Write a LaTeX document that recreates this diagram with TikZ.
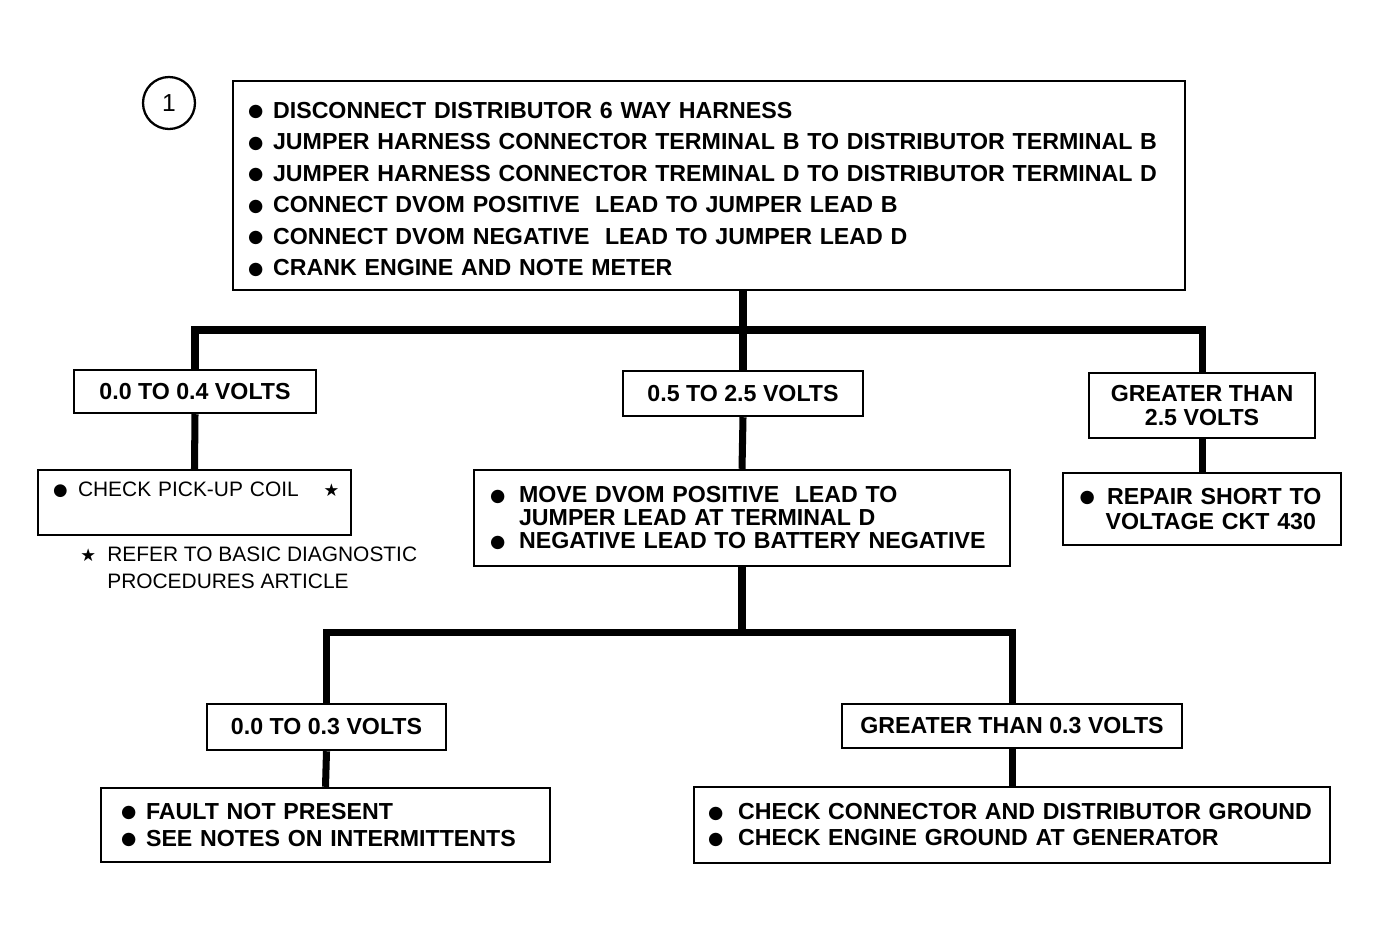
\documentclass[tikz,border=0pt]{standalone}
\usepackage{fontspec}
\setmainfont{Liberation Sans}
\newfontfamily\starfont{DejaVu Sans}
\usetikzlibrary{positioning}
\newcommand{\blt}[1][0.5cm]{\makebox[#1][l]{\raisebox{0.06em}{\starfont\fontsize{10}{10}\selectfont\char"25CF}}}
\newcommand{\str}{{\starfont\fontsize{10}{10}\selectfont\char"2605}}

\begin{document}
\begin{tikzpicture}[x=0.02cm,y=-0.02cm,
box/.style={draw,line width=1.4pt,fill=white,inner sep=0pt,font=\bfseries\fontsize{13.2}{16}\selectfont},
conn/.style={line width=4pt}]
\useasboundingbox (0,0) rectangle (1381,941);
\node[circle,draw,line width=1.3pt,minimum size=1.04cm,inner sep=0pt,font=\fontsize{14}{14}\selectfont] (one) at (169,103) {1};
\node[box,minimum width=19.04cm,minimum height=4.18cm,text width=18.44cm,inner xsep=0.3cm,align=left,
font=\bfseries\fontsize{13.2}{17.9}\selectfont] (top) at (709,185.5)
{\rule{0pt}{13.5pt}\blt DISCONNECT DISTRIBUTOR 6 WAY HARNESS\\
\blt JUMPER HARNESS CONNECTOR TERMINAL B TO DISTRIBUTOR TERMINAL B\\
\blt JUMPER HARNESS CONNECTOR TREMINAL D TO DISTRIBUTOR TERMINAL D\\
\blt CONNECT DVOM POSITIVE\ \ LEAD TO JUMPER LEAD B\\
\blt CONNECT DVOM NEGATIVE\ \ LEAD TO JUMPER LEAD D\\
\blt CRANK ENGINE AND NOTE METER};
\node[box,minimum width=4.84cm,minimum height=0.86cm] (low) at (195,391.5) {0.0 TO 0.4 VOLTS};
\node[box,minimum width=4.8cm,minimum height=0.9cm] (mid) at (743,393.5) {0.5 TO 2.5 VOLTS};
\node[box,minimum width=4.52cm,minimum height=1.3cm,align=center,
font=\bfseries\fontsize{13.2}{13.6}\selectfont] (high) at (1202,405.5) {GREATER THAN\\2.5 VOLTS};
\node[box,minimum width=6.26cm,minimum height=1.3cm,text width=5.66cm,inner xsep=0.3cm,align=left,
font=\fontsize{11.9}{15.3}\selectfont] (coil) at (194.5,502.5)
{\makebox[0.5cm][l]{\raisebox{0.06em}{\starfont\fontsize{9.5}{10}\selectfont\char"25CF}}CHECK PICK-UP COIL\makebox[0pt][l]{\hspace{0.5cm}\str}\\~};
\node[anchor=north west,inner sep=0pt,align=left,font=\fontsize{11.9}{15.3}\selectfont] (note) at (80,547)
{\makebox[0.54cm][l]{\str}REFER TO BASIC DIAGNOSTIC\\\hspace*{0.54cm}PROCEDURES ARTICLE};
\node[box,minimum width=10.72cm,minimum height=1.92cm,text width=10.08cm,inner xsep=0.32cm,align=left,
font=\bfseries\fontsize{13.2}{13}\selectfont] (move) at (742,518)
{\blt[0.58cm]MOVE DVOM POSITIVE\ \ LEAD TO\\
\hspace*{0.58cm}JUMPER LEAD AT TERMINAL D\\
\blt[0.58cm]NEGATIVE LEAD TO BATTERY NEGATIVE};
\node[box,minimum width=5.56cm,minimum height=1.44cm,text width=4.9cm,inner xsep=0.33cm,align=left,
font=\bfseries\fontsize{13.2}{14.7}\selectfont] (short) at (1202,509)
{\blt[0.55cm]REPAIR SHORT TO\\\hspace*{0.52cm}VOLTAGE CKT 430};
\node[box,minimum width=4.78cm,minimum height=0.92cm] (lowb) at (326.5,727) {0.0 TO 0.3 VOLTS};
\node[box,minimum width=6.8cm,minimum height=0.88cm] (highb) at (1012,726) {GREATER THAN 0.3 VOLTS};
\node[box,minimum width=8.98cm,minimum height=1.48cm,text width=8.18cm,inner xsep=0.4cm,align=left,
font=\bfseries\fontsize{13.2}{15.3}\selectfont] (fault) at (325.5,825)
{\blt FAULT NOT PRESENT\\\blt SEE NOTES ON INTERMITTENTS};
\node[box,minimum width=12.72cm,minimum height=1.52cm,text width=12.16cm,inner xsep=0.28cm,align=left,
font=\bfseries\fontsize{13.2}{14.7}\selectfont] (ground) at (1012,825)
{\blt[0.6cm]CHECK CONNECTOR AND DISTRIBUTOR GROUND\\\blt[0.6cm]CHECK ENGINE GROUND AT GENERATOR};
\coordinate (bus1) at (743,330);
\coordinate (bus2) at (742,632);
\draw[conn] (top.south -| mid.north) -- (mid.north);
\draw[conn] (low.north) |- (bus1) -| (high.north);
\draw[conn] (low.south) -- (coil.north);
\draw[conn] (mid.south) -- (move.north);
\draw[conn] (high.south) -- (short.north);
\draw[conn] (move.south) -- (bus2);
\draw[conn] (lowb.north) |- (bus2) -| (highb.north);
\draw[conn] (lowb.south) -- (fault.north);
\draw[conn] (highb.south) -- (ground.north);
\end{tikzpicture}
\end{document}
